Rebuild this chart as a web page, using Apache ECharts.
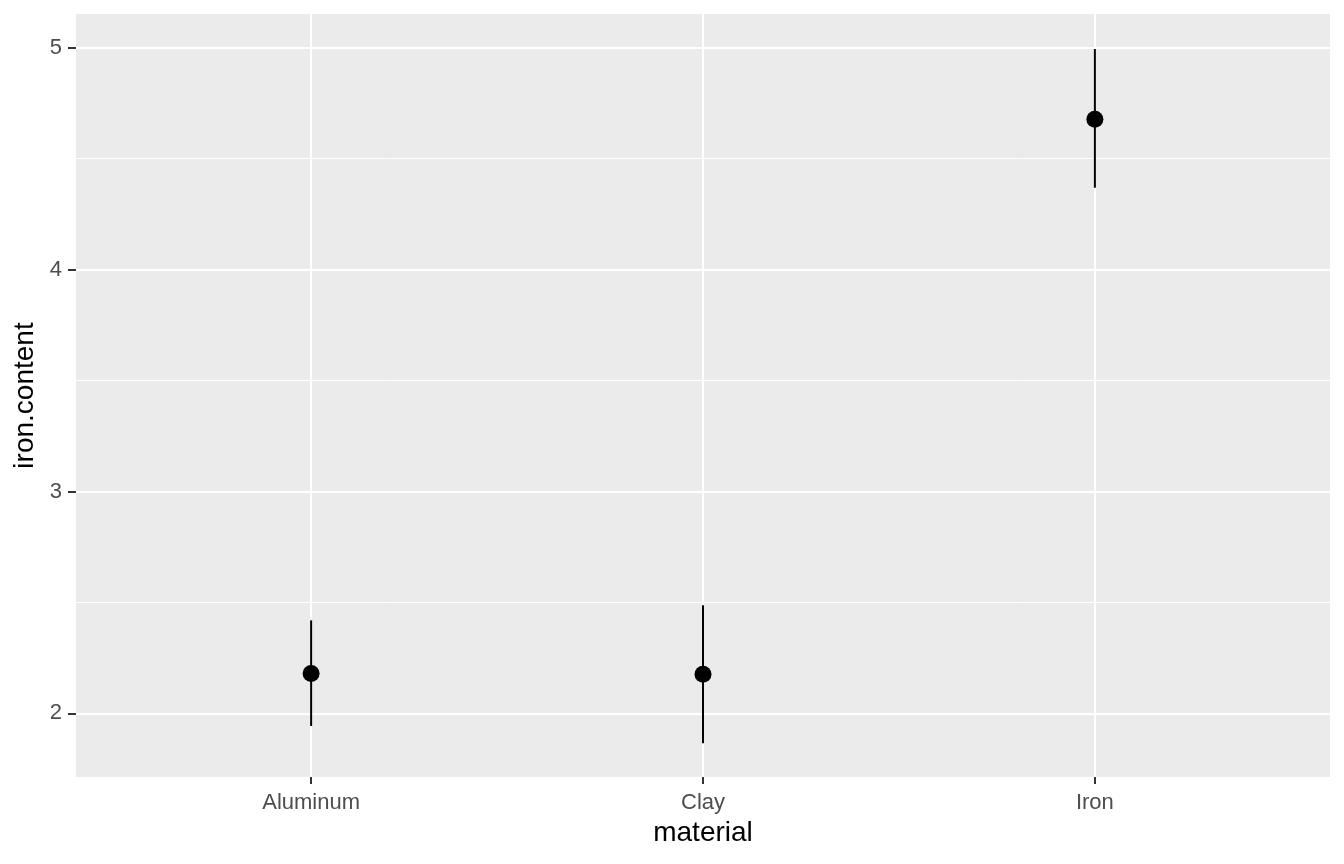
<!DOCTYPE html>
<html>
<head>
<meta charset="utf-8">
<script src="https://cdn.jsdelivr.net/npm/echarts@6/dist/echarts.min.js"></script>
<style>html,body{margin:0;padding:0;background:#fff}#c{width:1344px;height:864px}</style>
</head>
<body>
<div id="c"></div>
<script>
const categories = ['Aluminum', 'Clay', 'Iron'];
const means = [2.179, 2.176, 4.678];
const lowers = [1.943, 1.865, 4.369];
const uppers = [2.419, 2.487, 4.994];
const yTicks = [2, 3, 4, 5];
const yMinor = [2.5, 3.5, 4.5];

const pos = categories.map((c, i) => i + 1);
const chart = echarts.init(document.getElementById('c'), null, {renderer: 'canvas'});
const font = 'Liberation Sans, Arial, sans-serif';

chart.setOption({
  animation: false,
  grid: {left: 76, right: 14, top: 14, bottom: 87, show: true, backgroundColor: '#EBEBEB', borderWidth: 0},
  xAxis: {
    type: 'value', min: 0.4, max: 3.6,
    name: 'material', nameLocation: 'middle', nameGap: 40,
    nameTextStyle: {color: '#000', fontSize: 28, fontFamily: font},
    axisLine: {show: false},
    axisTick: {show: true, length: 7, customValues: pos, lineStyle: {color: '#333', width: 2}},
    axisLabel: {customValues: pos, margin: 15, color: '#4D4D4D', fontSize: 22, fontFamily: font,
      formatter: v => categories[Math.round(v) - 1] || ''},
    splitLine: {show: true, lineStyle: {color: '#fff', width: 2}}
  },
  yAxis: [{
    type: 'value', min: 1.713, max: 5.152,
    name: 'iron.content', nameLocation: 'middle', nameGap: 35,
    nameTextStyle: {color: '#000', fontSize: 28, fontFamily: font},
    axisLine: {show: false},
    axisTick: {show: true, length: 8, customValues: yTicks, lineStyle: {color: '#333', width: 2}},
    axisLabel: {customValues: yTicks, margin: 14, color: '#4D4D4D', fontSize: 22, fontFamily: font},
    splitLine: {show: true, lineStyle: {color: '#fff', width: 2}}
  }, {
    type: 'value', min: 1.713, max: 5.152, position: 'left',
    axisLine: {show: false},
    axisTick: {show: false, customValues: yMinor},
    axisLabel: {show: false, customValues: yMinor},
    splitLine: {show: true, lineStyle: {color: '#fff', width: 1}}
  }],
  series: [{
    type: 'custom',
    data: pos.map((p, i) => [p, lowers[i], uppers[i]]),
    renderItem: (params, api) => {
      const a = api.coord([api.value(0), api.value(1)]);
      const b = api.coord([api.value(0), api.value(2)]);
      return {type: 'line', shape: {x1: a[0], y1: a[1], x2: b[0], y2: b[1]}, style: {stroke: '#000', lineWidth: 2}};
    },
    z: 2
  }, {
    type: 'scatter',
    data: pos.map((p, i) => [p, means[i]]),
    symbol: 'circle', symbolSize: 17,
    itemStyle: {color: '#000', opacity: 1},
    z: 3
  }]
});
</script>
</body>
</html>
